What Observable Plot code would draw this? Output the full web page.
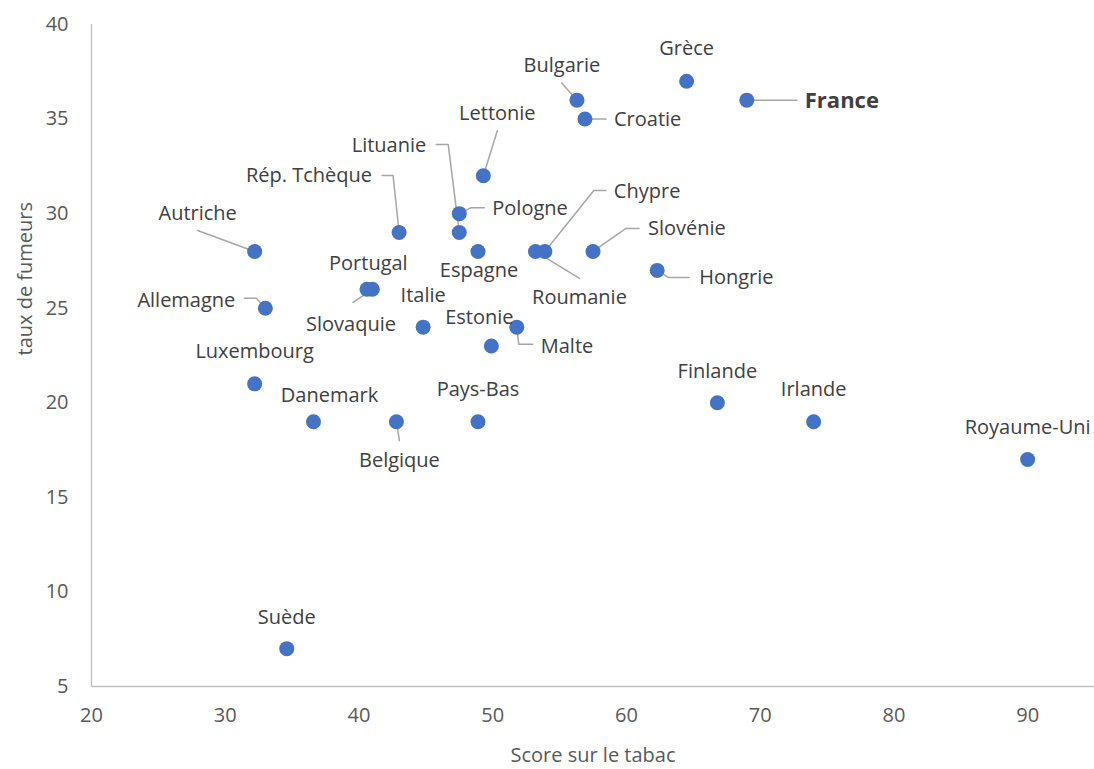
<!DOCTYPE html>
<html>
<head>
<meta charset="utf-8">
<script src="https://cdn.jsdelivr.net/npm/d3@7"></script>
<script src="https://cdn.jsdelivr.net/npm/@observablehq/plot@0.6"></script>
<style>
  html, body { margin: 0; padding: 0; background: #fff; }
  svg { display: block; }
</style>
</head>
<body>
<div id="chart"></div>
<script>
// ---- data ----
const countries = ["Grèce","France","Bulgarie","Croatie","Lettonie","Lituanie","Rép. Tchèque","Pologne","Autriche","Chypre","Slovénie","Espagne","Roumanie","Hongrie","Portugal","Slovaquie","Allemagne","Italie","Malte","Estonie","Luxembourg","Danemark","Belgique","Pays-Bas","Finlande","Irlande","Royaume-Uni","Suède"];
const scores    = [64.5, 69.0, 56.3, 56.9, 49.3, 47.5, 43.0, 47.5, 32.2, 53.9, 57.5, 48.9, 53.2, 62.3, 41.0, 40.6, 33.0, 44.8, 51.8, 49.9, 32.2, 36.6, 42.8, 48.9, 66.8, 74.0, 90.0, 34.6];
const smokers   = [37, 36, 36, 35, 32, 29, 29, 30, 28, 28, 28, 28, 28, 27, 26, 26, 25, 24, 24, 23, 21, 19, 19, 19, 20, 19, 17, 7];
const xTicks = [20, 30, 40, 50, 60, 70, 80, 90];
const yTicks = [5, 10, 15, 20, 25, 30, 35, 40];
const xTitle = "Score sur le tabac";
const yTitle = "taux de fumeurs";
const highlight = "France";

// ---- label layout (pixel offsets from each point) ----
const layout = {
  "Grèce":       {dx: 0,   dy: -33, a: "middle"},
  "France":      {dx: 58,  dy: 1,   a: "start", lead: [[0,0],[50,0]]},
  "Bulgarie":    {dx: -15, dy: -35, a: "middle", lead: [[-15,-17],[0,0]]},
  "Croatie":     {dx: 29,  dy: 1,   a: "start", lead: [[0,0],[21,0]]},
  "Lettonie":    {dx: 14,  dy: -62, a: "middle", lead: [[14,-45],[0,0]]},
  "Lituanie":    {dx: -33, dy: -87, a: "end", lead: [[-23,-88],[-11,-88],[0,0]]},
  "Rép. Tchèque":{dx: -27, dy: -57, a: "end", lead: [[-17,-57],[-6,-57],[0,0]]},
  "Pologne":     {dx: 33,  dy: -5,  a: "start", lead: [[25,-6],[12,-6],[0,0]]},
  "Autriche":    {dx: -57, dy: -38, a: "middle", lead: [[-57,-21],[0,0]]},
  "Chypre":      {dx: 69,  dy: -60, a: "start", lead: [[61,-61],[49,-61],[0,0]]},
  "Slovénie":    {dx: 55,  dy: -23, a: "start", lead: [[46,-23],[33,-23],[0,0]]},
  "Espagne":     {dx: 1,   dy: 19,  a: "middle"},
  "Roumanie":    {dx: 44,  dy: 46,  a: "middle", lead: [[0,0],[44,27]]},
  "Hongrie":     {dx: 42,  dy: 7,   a: "start", lead: [[0,0],[11,7],[32,7]]},
  "Portugal":    {dx: -4,  dy: -26, a: "middle"},
  "Slovaquie":   {dx: -16, dy: 35,  a: "middle", lead: [[4,1],[-14,13]]},
  "Allemagne":   {dx: -30, dy: -8,  a: "end", lead: [[-21,-10],[-9,-10],[0,0]]},
  "Italie":      {dx: 0,   dy: -32, a: "middle"},
  "Malte":       {dx: 24,  dy: 19,  a: "start", lead: [[0,0],[2,17],[16,17]]},
  "Estonie":     {dx: -12, dy: -28, a: "middle"},
  "Luxembourg":  {dx: 0,   dy: -32, a: "middle"},
  "Danemark":    {dx: 16,  dy: -26, a: "middle"},
  "Belgique":    {dx: 3,   dy: 39,  a: "middle", lead: [[0,0],[3,19]]},
  "Pays-Bas":    {dx: 0,   dy: -32, a: "middle"},
  "Finlande":    {dx: 0,   dy: -31, a: "middle"},
  "Irlande":     {dx: 0,   dy: -32, a: "middle"},
  "Royaume-Uni": {dx: 0,   dy: -32, a: "middle"},
  "Suède":       {dx: 0,   dy: -31, a: "middle"}
};

const W = 1094, H = 769;
const M = {left: 91, right: 0, top: 24, bottom: 83};
const xDomain = [20, 95], yDomain = [5, 40];

const points = countries.map((c, i) => ({name: c, x: scores[i], y: smokers[i]}));

// same scales the plot will use, to convert pixel offsets to data space
const xs = Plot.scale({x: {domain: xDomain, range: [M.left, W - M.right]}});
const ys = Plot.scale({y: {domain: yDomain, range: [H - M.bottom, M.top]}});

const leaderPts = [];
points.forEach(p => {
  const L = layout[p.name];
  if (!L || !L.lead) return;
  const px = xs.apply(p.x), py = ys.apply(p.y);
  L.lead.forEach(([dx, dy]) => {
    leaderPts.push({id: p.name, x: xs.invert(px + dx), y: ys.invert(py + dy)});
  });
});

const font = "'Open Sans', 'DejaVu Sans', sans-serif";

const labelMarks = points.map(p => {
  const L = layout[p.name];
  const hl = p.name === highlight;
  return Plot.text([p], {
    x: "x", y: "y", text: "name",
    dx: L.dx, dy: L.dy, textAnchor: L.a, lineAnchor: "middle",
    fill: "#404040",
    fontWeight: hl ? "bold" : "normal",
    fontSize: hl ? 22 : 20,
    fontFamily: font
  });
});

const chart = Plot.plot({
  width: W, height: H,
  marginLeft: M.left, marginRight: M.right, marginTop: M.top, marginBottom: M.bottom,
  style: {background: "#fff", fontFamily: font},
  x: {domain: xDomain, axis: null},
  y: {domain: yDomain, axis: null},
  marks: [
    Plot.axisX({ticks: xTicks, tickSize: 0, tickPadding: 21, label: null, fontSize: 20, fill: "#595959", fontFamily: font}),
    Plot.axisY({ticks: yTicks, tickSize: 0, tickPadding: 23, label: null, fontSize: 20, fill: "#595959", fontFamily: font}),
    Plot.ruleX([xDomain[0]], {stroke: "#bfbfbf", strokeWidth: 1.3}),
    Plot.ruleY([yDomain[0]], {stroke: "#bfbfbf", strokeWidth: 1.3}),
    Plot.line(leaderPts, {x: "x", y: "y", z: "id", stroke: "#a6a6a6", strokeWidth: 1.5, curve: "linear"}),
    Plot.dot(points, {x: "x", y: "y", r: 7.5, fill: "#4472c4", stroke: "none"}),
    ...labelMarks,
    Plot.text([xTitle], {frameAnchor: "bottom", dy: 75, fontSize: 20, fill: "#595959", fontFamily: font}),
    Plot.text([yTitle], {frameAnchor: "left", dx: -66, rotate: -90, fontSize: 20, fill: "#595959", fontFamily: font})
  ]
});

document.getElementById("chart").appendChild(chart);
</script>
</body>
</html>
